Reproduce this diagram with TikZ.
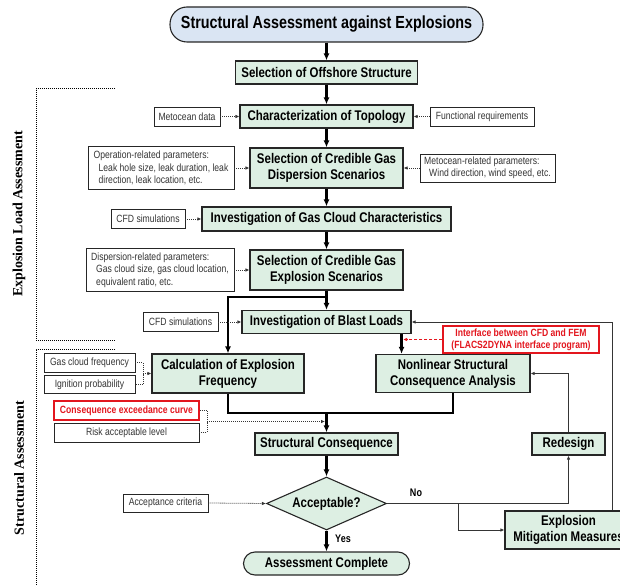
\documentclass[tikz,border=0pt]{standalone}
\usepackage{fontspec}
\newfontfamily\narrowfont{Liberation Sans}[FakeStretch=0.82]
\newfontfamily\timesfont{Liberation Serif}
\usetikzlibrary{shapes.geometric,arrows.meta}
\definecolor{boxgreen}{HTML}{DDEFE3}
\definecolor{titleblue}{HTML}{DAE5F3}
\definecolor{boxline}{HTML}{262626}
\definecolor{alertred}{HTML}{E3161E}
\definecolor{notegray}{HTML}{353535}

\begin{document}
\begin{tikzpicture}[x=1pt,y=-1pt,
  boxsize/.style 2 args={minimum width=#1, minimum height=#2},
  stepbox/.style={draw=boxline, line width=1.1pt, fill=boxgreen, inner sep=0pt, align=center,
    font=\narrowfont\bfseries\fontsize{14}{16}\selectfont},
  titlebox/.style={stepbox, fill=titleblue, rounded corners=17pt,
    font=\narrowfont\bfseries\fontsize{17.5}{19}\selectfont},
  notebox/.style={draw=boxline, line width=0.9pt, fill=white, inner sep=0pt, align=center, text=notegray,
    font=\narrowfont\fontsize{10.5}{12.5}\selectfont},
  rednote/.style={notebox, draw=alertred, line width=1.3pt, text=alertred,
    font=\narrowfont\bfseries\fontsize{10.5}{12}\selectfont},
  sidelabel/.style={font=\timesfont\bfseries\fontsize{14}{16}\selectfont},
  answer/.style={font=\narrowfont\bfseries\fontsize{11}{12}\selectfont},
  mainline/.style={line width=2.2pt},
  mainarrow/.style={line width=2.2pt, -{Latex[length=7pt,width=6pt]}},
  thinarrow/.style={draw=notegray, line width=0.9pt, -{Latex[length=4pt,width=3.5pt]}},
  dotline/.style={draw=notegray, line width=0.8pt, dash pattern=on 1pt off 1pt},
  dotarrow/.style={dotline, -{Latex[length=4pt,width=3.5pt]}},
  bracket/.style={line width=1pt, dash pattern=on 1pt off 1pt},
  reddash/.style={draw=alertred, line width=1pt, dash pattern=on 3pt off 2pt, -{Latex[length=4pt,width=3.5pt]}}
]
\useasboundingbox (0,0) rectangle (620,585);

% main flow
\node[titlebox, boxsize={313pt}{35pt}] (title) at (326.5,24.5) {Structural Assessment against Explosions};
\node[stepbox, boxsize={182pt}{23pt}] (offshore) at (326.5,72.5) {Selection of Offshore Structure};
\node[stepbox, boxsize={173pt}{23pt}] (topology) at (326.5,116.5) {Characterization of Topology};
\node[stepbox, boxsize={153pt}{40pt}] (dispersion) at (326.5,168) {Selection of Credible Gas\\Dispersion Scenarios};
\node[stepbox, boxsize={249pt}{24pt}] (cloud) at (326.5,219) {Investigation of Gas Cloud Characteristics};
\node[stepbox, boxsize={153pt}{40pt}] (scenario) at (326.5,270) {Selection of Credible Gas\\Explosion Scenarios};
\node[stepbox, boxsize={169pt}{23pt}] (blast) at (326.5,322) {Investigation of Blast Loads};
\node[stepbox, boxsize={152pt}{39pt}] (frequency) at (228,373.5) {Calculation of Explosion\\Frequency};
\node[stepbox, boxsize={154pt}{38pt}] (nonlinear) at (453,373.5) {Nonlinear Structural\\Consequence Analysis};
\node[stepbox, boxsize={143pt}{22pt}] (consequence) at (326.5,444) {Structural Consequence};
\node[stepbox, boxsize={73pt}{22pt}] (redesign) at (568.5,444) {Redesign};
\node[stepbox, diamond, aspect=2.26, boxsize={120pt}{53pt}] (acceptable) at (326.5,503.5) {Acceptable?};
\node[stepbox, boxsize={127pt}{38pt}] (mitigation) at (568.5,530) {Explosion\\Mitigation Measures};
\node[stepbox, rounded corners=11.5pt, boxsize={166pt}{23pt}] (complete) at (326.5,563.5) {Assessment Complete};

% inputs
\node[notebox, boxsize={66pt}{19pt}] (metdata) at (187,116.5) {Metocean data};
\node[notebox, boxsize={104pt}{19pt}] (funcreq) at (482,116.5) {Functional requirements};
\node[notebox, align=left, boxsize={146pt}{43pt}] (oppar) at (161,168) {Operation-related parameters:\\\hspace*{5pt}Leak hole size, leak duration, leak\\\hspace*{5pt}direction, leak location, etc.};
\node[notebox, align=left, boxsize={135pt}{28pt}] (metpar) at (487.5,168) {Metocean-related parameters:\\\hspace*{5pt}Wind direction, wind speed, etc.};
\node[notebox, boxsize={74pt}{19pt}] (cfdcloud) at (148,219) {CFD simulations};
\node[notebox, align=left, boxsize={148pt}{43pt}] (dispar) at (160,270) {Dispersion-related parameters:\\\hspace*{5pt}Gas cloud size, gas cloud location,\\\hspace*{5pt}equivalent ratio, etc.};
\node[notebox, boxsize={75pt}{19pt}] (cfdblast) at (180.5,322) {CFD simulations};
\node[rednote, boxsize={156pt}{27pt}] (interface) at (521,339.5) {Interface between CFD and FEM\\(FLACS2DYNA interface program)};
\node[notebox, boxsize={91pt}{19pt}] (gasfreq) at (89.5,362.5) {Gas cloud frequency};
\node[notebox, boxsize={91pt}{18pt}] (ignition) at (89.5,384.5) {Ignition probability};
\node[rednote, line width=1.1pt, boxsize={145pt}{19pt}] (exceed) at (126.5,410.5) {Consequence exceedance curve};
\node[notebox, boxsize={145pt}{19pt}] (risklevel) at (126.5,432.5) {Risk acceptable level};
\node[notebox, boxsize={85pt}{18pt}] (criteria) at (165.5,503) {Acceptance criteria};

% side labels
\node[sidelabel, rotate=90] (loadlabel) at (19,214) {Explosion Load Assessment};
\node[sidelabel, rotate=90] (structlabel) at (19,468) {Structural Assessment};
\draw[bracket] (115,89) -| (36,340) -- (115,340);
\draw[bracket] (115,349) -| (36,585);

% thick connectors
\foreach \from/\to in {title/offshore, offshore/topology, topology/dispersion, dispersion/cloud,
  cloud/scenario, scenario/blast, consequence/acceptable, acceptable/complete}
  \draw[mainarrow] (\from) -- (\to);
\coordinate (split) at (326.5,297);
\draw[mainarrow] (split) -| (frequency.north);
\coordinate (tonl) at ([xshift=-10pt]blast.south east);
\draw[mainarrow] (tonl) -- (tonl |- nonlinear.north);
\draw[reddash, shorten >=1.5pt] (interface.west) -- (interface.west -| tonl);
\coordinate (merge) at (326.5,413);
\draw[mainline] (frequency.south) |- (merge) -| (nonlinear.south);
\draw[mainarrow] (merge) -- (consequence.north);

% feedback loop
\draw[thinarrow] (acceptable.east) -| (redesign.south);
\coordinate (nobranch) at (458,503.5);
\draw[thinarrow] (nobranch) |- (mitigation.west);
\draw[thinarrow] (redesign.north) |- (nonlinear.east);
\draw[thinarrow] ([xshift=43.5pt]mitigation.north) |- (blast.east);
\node[answer] (nolabel) at (416,493) {No};
\node[answer] (yeslabel) at (343,539) {Yes};

% dotted inputs
\foreach \from/\to in {metdata.east/topology.west, funcreq.west/topology.east, oppar.east/dispersion.west,
  metpar.west/dispersion.east, cfdcloud.east/cloud.west, dispar.east/scenario.west,
  cfdblast.east/blast.west, criteria.east/acceptable.west}
  \draw[dotarrow] (\from) -- (\to);
\coordinate (fjoin) at (143,373.5);
\draw[dotline] (gasfreq.east) -| (fjoin) |- (ignition.east);
\draw[dotarrow] (fjoin) -- (frequency.west);
\coordinate (rjoin) at (207,421.5);
\draw[dotline] (exceed.east) -| (rjoin) |- (risklevel.east);
\draw[dotarrow, shorten >=1.5pt] (rjoin) -- (rjoin -| merge);
\end{tikzpicture}
\end{document}
